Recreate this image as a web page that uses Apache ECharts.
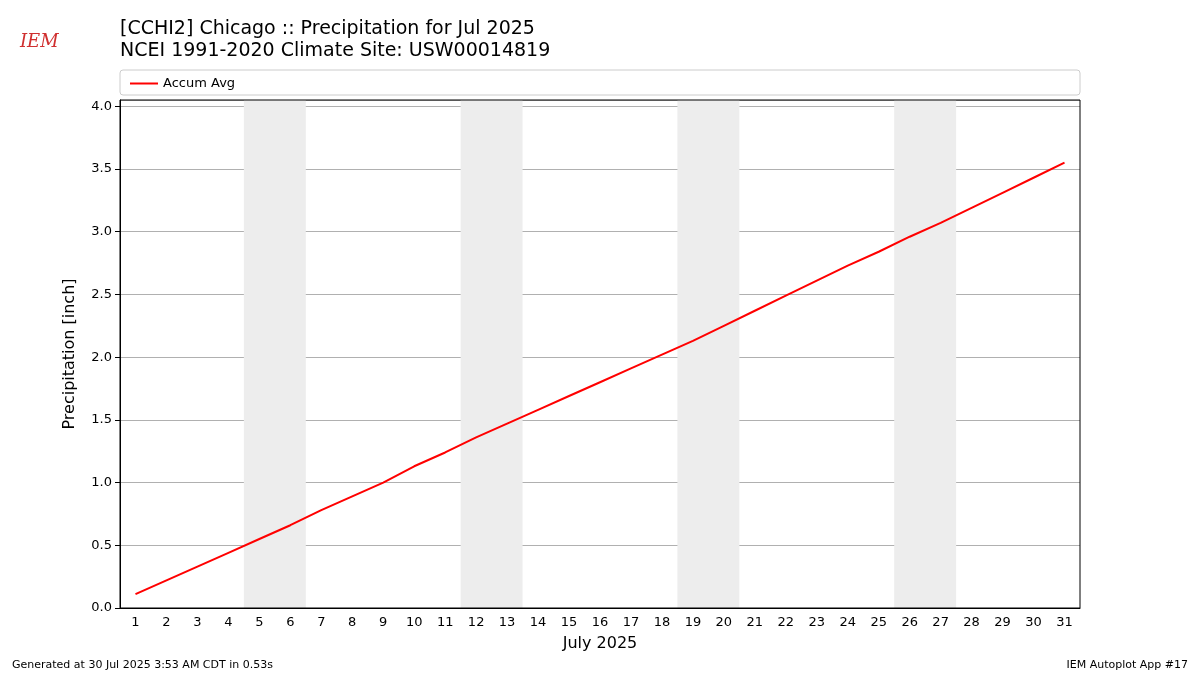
<!DOCTYPE html>
<html><head><meta charset="utf-8">
<script src="https://cdn.jsdelivr.net/npm/echarts@6/dist/echarts.min.js"></script>
<style>html,body{margin:0;background:#fff}#chart{width:1200px;height:675px}</style>
</head><body><div id="chart"></div>
<script>
var days = [];
for (var d = 1; d <= 31; d++) days.push(String(d));
var accumAvg = [0.11,0.22,0.33,0.44,0.55,0.66,0.78,0.89,1.00,1.13,1.24,1.36,1.47,1.58,1.69,1.80,1.91,2.02,2.13,2.25,2.37,2.49,2.61,2.73,2.84,2.96,3.07,3.19,3.31,3.43,3.55];
// weekend bands, day edges
var weekends = [[4.5,6.5],[11.5,13.5],[18.5,20.5],[25.5,27.5]];

var chart = echarts.init(document.getElementById('chart'));
chart.setOption({
    textStyle: {fontFamily: 'DejaVu Sans'},
    animation: false,
    graphic: [
        {type: 'text', left: 120, top: 18, style: {text: '[CCHI2] Chicago :: Precipitation for Jul 2025\nNCEI 1991-2020 Climate Site: USW00014819', font: '19px DejaVu Sans', fill: '#000', lineHeight: 22}},
        {type: 'rect', shape: {x: 120, y: 70, width: 960, height: 25, r: 3}, style: {fill: '#fff', stroke: '#ccc'}, z: -1},
        {type: 'rect', shape: {x: 120, y: 100, width: 960, height: 508}, style: {fill: 'none', stroke: '#000', lineWidth: 1}, z: 10},
        {type: 'text', left: 20, top: 33, style: {text: 'IEM', font: 'italic 18px DejaVu Serif', fill: '#d03030'}},
        {type: 'text', left: 12, top: 660, style: {text: 'Generated at 30 Jul 2025 3:53 AM CDT in 0.53s', font: '11px DejaVu Sans', fill: '#000'}},
        {type: 'text', right: 12, top: 660, style: {text: 'IEM Autoplot App #17', font: '11px DejaVu Sans', fill: '#000'}}
    ],
    legend: {left: 125, top: 72, itemWidth: 28, itemHeight: 2, icon: 'rect', textStyle: {fontSize: 13, color: '#000'}, data: ['Accum Avg']},
    grid: {left: 120, right: 120, top: 100, bottom: 67},
    xAxis: [{
        type: 'category', data: days, boundaryGap: true,
        name: 'July 2025', nameLocation: 'middle', nameGap: 28, nameTextStyle: {fontSize: 16, color: '#000'},
        axisLine: {lineStyle: {color: '#000'}}, axisTick: {alignWithLabel: true, lineStyle: {color: '#000'}},
        axisLabel: {color: '#000', fontSize: 13, interval: 0}
    }, {
        type: 'value', min: 0.5, max: 31.5, show: false
    }],
    yAxis: {
        type: 'value', min: 0, max: 4.05, interval: 0.5,
        name: 'Precipitation [inch]', nameLocation: 'middle', nameGap: 42, nameTextStyle: {fontSize: 16, color: '#000'},
        axisLine: {show: true, lineStyle: {color: '#000'}}, axisTick: {show: true, lineStyle: {color: '#000'}},
        axisLabel: {color: '#000', fontSize: 13, showMaxLabel: false, formatter: function(v){return v.toFixed(1);}},
        splitLine: {lineStyle: {color: '#b0b0b0'}}
    },
    series: [{
        name: 'Accum Avg', type: 'line', data: accumAvg, symbol: 'none',
        lineStyle: {color: 'red', width: 2}, itemStyle: {color: 'red'}, z: 5
    }, {
        type: 'line', xAxisIndex: 1, data: [], z: 1,
        markArea: {silent: true, itemStyle: {color: '#ededed'}, data: weekends.map(function(w){return [{xAxis: w[0]}, {xAxis: w[1]}];})}
    }]
});
</script></body></html>
